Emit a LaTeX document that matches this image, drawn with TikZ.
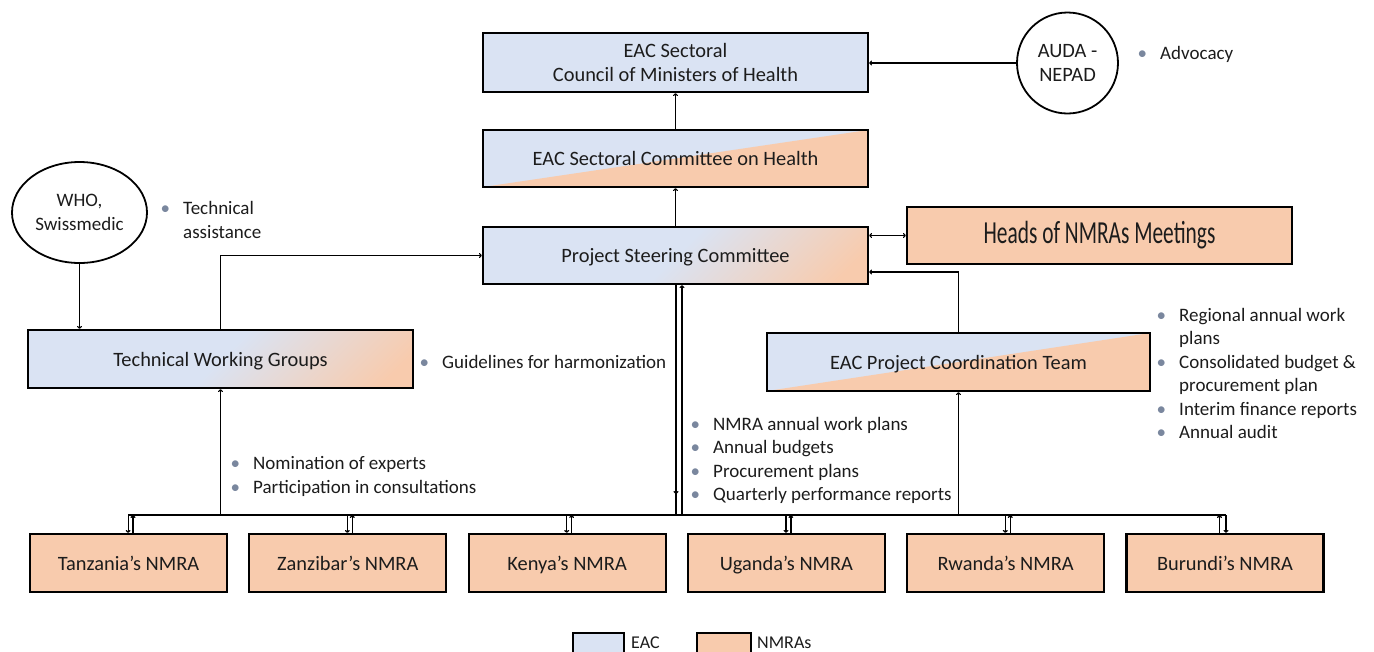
\documentclass[tikz,border=0pt]{standalone}
\usepackage{fontspec}
\usepackage{graphicx}
\setmainfont{Carlito}
\usetikzlibrary{arrows.meta,calc,shapes.geometric}

\definecolor{eacblue}{HTML}{DAE3F3}
\definecolor{nmraorange}{HTML}{F8CBAD}
\definecolor{bulletgrey}{HTML}{7A879E}
\definecolor{ink}{HTML}{1C1C1C}

% blue fading into orange towards one corner
\pgfdeclareverticalshading{eacmix}{100bp}{color(0bp)=(nmraorange); color(20bp)=(nmraorange); color(50bp)=(eacblue); color(100bp)=(eacblue)}

\newcommand{\boxfont}{\fontsize{20.4}{24}\selectfont}
\newcommand{\listfont}{\fontsize{19}{23.5}\selectfont}
\newcommand{\bul}{\llap{\textcolor{bulletgrey}{\textbullet}\hspace{13pt}}}

\tikzset{
  box/.style={draw=black, line width=2.2pt, minimum width=385pt, minimum height=57pt,
    inner sep=0pt, align=center, font=\boxfont, text=ink},
  oneline/.style={text height=15.5pt, text depth=1.5pt},
  eacbox/.style={box, fill=eacblue},
  nmrabox/.style={box, fill=nmraorange},
  splitbox/.style={box, oneline, fill=eacblue,
    path picture={\fill[nmraorange] (path picture bounding box.south west) --
      (path picture bounding box.north east) -- (path picture bounding box.south east) -- cycle;}},
  mixbox/.style={box, oneline, shading=eacmix, shading angle=45},
  country/.style={nmrabox, oneline, minimum width=197pt, minimum height=58pt},
  partner/.style={draw=black, line width=1.8pt, inner sep=0pt, align=center, font=\boxfont, text=ink},
  list/.style={anchor=west, align=left, inner sep=0pt, font=\listfont, text=ink},
  arr/.style={line width=1.2pt, -{To[length=3pt,width=5pt]}},
  darr/.style={line width=1.2pt, {To[length=3pt,width=5pt]}-{To[length=3pt,width=5pt]}},
  link/.style={line width=1.2pt},
}

\begin{document}
\begin{tikzpicture}[x=1pt,y=-1pt]
\useasboundingbox (0,0) rectangle (1374,651);

% governance chain
\node[eacbox] (council) at (675.5,62.5) [minimum height=59pt] {EAC Sectoral\\Council of Ministers of Health};
\node[splitbox] (committee) at (675.5,158.5) {EAC Sectoral Committee on Health};
\node[mixbox] (psc) at (675.5,255.5) {Project Steering Committee};
\node[nmrabox] (heads) at (1099.5,235.5) {\fontsize{21.4}{24}\selectfont\scalebox{1}[1.5]{Heads of NMRAs Meetings}};
\node[mixbox] (twg) at (220.5,359) [minimum height=58pt] {Technical Working Groups};
\node[splitbox] (pct) at (958.5,362) [minimum width=383pt, minimum height=58pt] {EAC Project Coordination Team};

% partners
\node[partner, circle, minimum size=101pt] (auda) at (1067.5,63) {AUDA -\\NEPAD};
\node[partner, ellipse, minimum width=135pt, minimum height=101pt, font=\listfont] (who) at (79.5,212.5) {WHO,\\Swissmedic};

% national authorities
\node[country] (tz) at (128.5,563) {Tanzania’s NMRA};
\node[country] (zn) at (347.8,563) {Zanzibar’s NMRA};
\node[country] (ke) at (567.1,563) {Kenya’s NMRA};
\node[country] (ug) at (786.4,563) {Uganda’s NMRA};
\node[country] (rw) at (1005.7,563) {Rwanda’s NMRA};
\node[country] (bu) at (1225,563) {Burundi’s NMRA};

% reporting bus above the national authorities
\coordinate (bus) at (0,515);
\coordinate (busL) at (128,515);
\coordinate (busR) at (1226,515);
\draw[link] (busL) -- (busR);

\foreach \n in {tz,zn,ke,ug,rw}{
  \coordinate (\n dn) at ($(\n.north)+(-0.4,0)$);
  \coordinate (\n up) at ($(\n.north)+(4.5,0)$);
  \draw[arr] (\n dn |- bus) -- (\n dn);
  \draw[arr] (\n up) -- (\n up |- bus);
}
\coordinate (budn) at ($(bu.north)+(1,0)$);
\coordinate (buup) at ($(bu.north)+(-5.5,0)$);
\draw[arr] (budn |- bus) -- (budn);
\draw[arr] (buup) -- (buup |- bus);

% links between the governance bodies
\draw[arr] (committee) -- (council);
\draw[arr] (psc) -- (committee);
\draw[arr] (auda.west) -- (auda.west -| council.east);
\draw[darr] (psc.east |- heads.west) -- (heads.west);
\draw[arr] (who.south) -- (who.south |- twg.north);
\draw[arr] (twg.north) |- (psc.west);
\draw[arr] (pct.north) |- ([yshift=-16.5pt]psc.east);
\draw[arr] (twg.south |- bus) -- (twg.south);
\draw[arr] (pct.south |- bus) -- (pct.south);

\coordinate (pscdn) at ($(psc.south)+(0.5,0)$);
\coordinate (pscup) at ($(psc.south)+(6.5,0)$);
\draw[link] (pscdn) -- (pscdn |- bus);
\draw[arr] (pscdn) -- ($(pscdn |- bus)+(0,-21)$);
\draw[arr] (pscup |- bus) -- (pscup);

% flows of information
\node[list] (advocacy) at (1160,54) {\bul Advocacy};
\node[list] (assist) at (183,220) {\bul Technical\\assistance};
\node[list] (guide) at (442,362) {\bul Guidelines for harmonization};
\node[list] (experts) at (253,476.5) {\bul Nomination of experts\\\bul Participation in consultations};
\node[list] (plans) at (713,460.5) {\bul NMRA annual work plans\\\bul Annual budgets\\\bul Procurement plans\\\bul Quarterly performance reports};
\node[list] (regional) at (1179,373.5) {\bul Regional annual work\\plans\\\bul Consolidated budget \&\\procurement plan\\\bul Interim finance reports\\\bul Annual audit};

% legend
\begin{scope}
\clip (0,0) rectangle (1374,651);
\node[draw=black, line width=2pt, fill=eacblue, minimum width=51pt, minimum height=26pt, inner sep=0pt, anchor=north west] (keyeac) at (572,632) {};
\node[draw=black, line width=2pt, fill=nmraorange, minimum width=54pt, minimum height=26pt, inner sep=0pt, anchor=north west] (keynmra) at (696,632) {};
\end{scope}
\node[anchor=west, inner sep=0pt, font=\fontsize{18}{20}\selectfont, text=ink] (keyeactext) at (631,643) {EAC};
\node[anchor=west, inner sep=0pt, font=\fontsize{18}{20}\selectfont, text=ink] (keynmratext) at (757,643) {NMRAs};
\end{tikzpicture}
\end{document}
